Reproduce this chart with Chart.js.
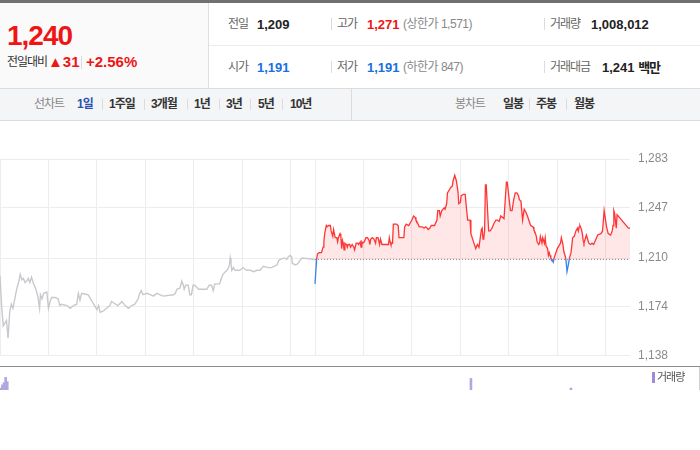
<!DOCTYPE html>
<html lang="ko">
<head>
<meta charset="utf-8">
<script src="https://cdn.jsdelivr.net/npm/chart.js@4.4.1/dist/chart.umd.min.js"></script>
<style>
  body { margin: 0; background: #fff; font-family: "Liberation Sans", "Noto Sans CJK KR", sans-serif; }
  #wrap { position: relative; width: 700px; height: 390px; overflow: hidden; }
  .abs { position: absolute; white-space: nowrap; line-height: 1; }
  .lbl { font-size: 12px; color: #666; letter-spacing: -1px; }
  .num { font-size: 13px; font-weight: bold; color: #222; }
  .sub { font-size: 12px; color: #888; letter-spacing: -0.5px; }
  .red { color: #f01515; }
  .blue { color: #1a6fe2; }
  .sep { position: absolute; width: 1px; background: #dcdcdc; }
  .tab { font-size: 12px; font-weight: bold; color: #333; letter-spacing: -1px; }
  .tabg { font-size: 12px; color: #888; letter-spacing: -1px; }
</style>
</head>
<body>
<div id="wrap">
  <!-- 상단 시세 -->
  <div class="abs" style="left:0;top:0;width:700px;height:3px;background:#707070"></div>
  <div class="abs" style="left:0;top:3px;width:208px;height:85px;background:#fafafa;border-right:1px solid #e0e0e0"></div>
  <div class="abs" style="left:0;top:88px;width:700px;height:1px;background:#dcdcdc"></div>
  <div class="abs" style="left:209px;top:45px;width:491px;height:1px;background:#ececec"></div>

  <div class="abs red" style="left:7px;top:22px;font-size:28px;font-weight:bold;letter-spacing:-1px">1,240</div>
  <div class="abs" style="left:7px;top:56px;font-size:12px;color:#333;letter-spacing:-1px">전일대비</div>
  <div class="abs red" style="left:48px;top:54px;font-size:15px;font-weight:bold">▲31</div>
  <div class="sep" style="left:81px;top:56px;height:13px"></div>
  <div class="abs red" style="left:86px;top:54px;font-size:15px;font-weight:bold">+2.56%</div>

  <div class="abs lbl" style="left:228px;top:18px">전일</div>
  <div class="abs num" style="left:257px;top:18px">1,209</div>
  <div class="sep" style="left:331px;top:18px;height:12px"></div>
  <div class="abs lbl" style="left:337px;top:18px">고가</div>
  <div class="abs num red" style="left:367px;top:18px">1,271</div>
  <div class="abs sub" style="left:403px;top:18px">(상한가 1,571)</div>
  <div class="sep" style="left:544px;top:18px;height:12px"></div>
  <div class="abs lbl" style="left:550px;top:18px">거래량</div>
  <div class="abs num" style="left:591px;top:18px">1,008,012</div>

  <div class="abs lbl" style="left:228px;top:61px">시가</div>
  <div class="abs num blue" style="left:257px;top:61px">1,191</div>
  <div class="sep" style="left:331px;top:61px;height:12px"></div>
  <div class="abs lbl" style="left:337px;top:61px">저가</div>
  <div class="abs num blue" style="left:367px;top:61px">1,191</div>
  <div class="abs sub" style="left:403px;top:61px">(하한가 847)</div>
  <div class="sep" style="left:544px;top:61px;height:12px"></div>
  <div class="abs lbl" style="left:550px;top:61px">거래대금</div>
  <div class="abs num" style="left:602px;top:61px">1,241 <span style="letter-spacing:-1px">백만</span></div>

  <!-- 탭 -->
  <div class="abs" style="left:0;top:89px;width:700px;height:31px;background:#f4f5f7;border-bottom:1px solid #dcdcdc"></div>
  <div class="sep" style="left:351px;top:89px;height:31px"></div>
  <div class="abs tabg" style="left:34px;top:98px">선차트</div>
  <div class="abs tab" style="left:77px;top:98px;color:#2a50b0">1일</div>
  <div class="sep" style="left:102px;top:99px;height:11px"></div>
  <div class="abs tab" style="left:109px;top:98px">1주일</div>
  <div class="sep" style="left:144px;top:99px;height:11px"></div>
  <div class="abs tab" style="left:151px;top:98px">3개월</div>
  <div class="sep" style="left:187px;top:99px;height:11px"></div>
  <div class="abs tab" style="left:194px;top:98px">1년</div>
  <div class="sep" style="left:219px;top:99px;height:11px"></div>
  <div class="abs tab" style="left:226px;top:98px">3년</div>
  <div class="sep" style="left:250px;top:99px;height:11px"></div>
  <div class="abs tab" style="left:258px;top:98px">5년</div>
  <div class="sep" style="left:282px;top:99px;height:11px"></div>
  <div class="abs tab" style="left:290px;top:98px">10년</div>
  <div class="abs tabg" style="left:455px;top:98px">봉차트</div>
  <div class="abs tab" style="left:503px;top:98px">일봉</div>
  <div class="sep" style="left:529px;top:99px;height:11px"></div>
  <div class="abs tab" style="left:536px;top:98px">주봉</div>
  <div class="sep" style="left:566px;top:99px;height:11px"></div>
  <div class="abs tab" style="left:574px;top:98px">월봉</div>

  <!-- 차트 -->
  <div class="abs" style="left:0;top:122px;width:700px;height:249px"><canvas id="priceChart"></canvas></div>
  <div class="abs" style="left:0;top:367px;width:699px;height:100px;background:#fff;border-right:1px solid #d0d0d0"><canvas id="volChart"></canvas></div>
  <div class="abs" style="left:0;top:366px;width:700px;height:1px;background:#8c8c8c"></div>
  <div class="abs" style="left:652px;top:372px;width:3px;height:11px;background:#a08ad6"></div>
  <div class="abs" style="left:657px;top:372px;font-size:11px;color:#555;letter-spacing:-1px">거래량</div>
</div>

<script>
// 기준가 (전일 종가)
const prevClose = 1209;

// 전일 (분, 9:00 기준)
const prevMin = [0,2,4,6,8,10,12,14,16,19,21,23,25,27,29,31,33,35,37,39,41,43,45,47,49,50,52,54,58,60,62,64,68,72,74,76,83,87,91,95,97,99,101,109,111,114,116,120,122,124,128,132,136,138,146,151,155,159,163,167,171,173,175,177,182,186,190,194,202,215,217,219,223,225,227,228,230,233,235,237,239,241,246,256,259,262,264,266,272,274,276,279,281,283,284,285,286,287,289,291,297,301,305,310,314,318,322,326,332,336,340,343,345,347,351,353,355,357,359,361,362,366,369,371,374,390];
const prevPrice = [1197,1175,1160,1162,1164,1151,1170,1176,1173,1182,1188,1192,1198,1194,1195,1192,1193,1195,1192,1196,1192,1189,1186,1181,1173,1183,1180,1184,1185,1173,1178,1181,1181,1180,1175,1176,1175,1173,1175,1176,1184,1179,1184,1183,1181,1178,1176,1172,1175,1170,1171,1173,1175,1178,1175,1178,1175,1173,1175,1176,1180,1184,1186,1183,1184,1183,1182,1184,1182,1183,1184,1187,1188,1193,1190,1187,1190,1190,1183,1183,1190,1190,1187,1187,1190,1190,1186,1191,1191,1195,1198,1200,1201,1203,1205,1210,1206,1201,1203,1201,1201,1203,1201,1201,1200,1201,1201,1204,1203,1203,1204,1205,1208,1209,1210,1210,1209,1211,1212,1211,1206,1205,1206,1208,1210,1209];

// 당일 (분, 9:00 기준)
const todayMin = [0,2,3,5,8,10,11,12,14,15,17,19,20,22,23,25,27,28,29,31,32,33,34,35,36,37,39,40,41,43,44,46,48,49,51,53,54,56,57,58,59,61,63,65,67,68,69,71,73,75,76,78,80,81,83,85,87,91,92,93,94,96,97,99,101,103,104,106,108,110,111,113,116,118,120,122,124,125,127,129,131,133,135,137,139,140,142,144,148,151,152,154,155,157,160,161,163,164,166,168,170,171,173,175,177,178,180,181,184,186,187,189,191,192,193,199,201,203,206,207,208,209,210,211,212,215,217,219,222,224,226,228,230,232,234,235,237,238,242,244,246,248,250,252,253,255,256,257,259,261,263,267,270,271,273,274,275,277,278,279,281,282,284,285,286,288,289,290,291,292,294,295,296,300,302,304,305,307,308,310,311,312,314,315,317,319,321,323,324,325,326,327,328,330,331,332,333,335,336,337,339,341,343,345,350,354,356,358,359,361,363,366,368,369,370,371,373,374,388,390];
const todayPrice = [1191,1209,1213,1214,1214,1218,1222,1228,1234,1233,1234,1234,1230,1226,1231,1225,1225,1222,1225,1228,1226,1217,1223,1221,1216,1221,1220,1218,1220,1220,1218,1220,1218,1216,1221,1221,1220,1222,1218,1222,1221,1222,1225,1225,1223,1220,1224,1225,1224,1221,1225,1225,1220,1224,1220,1220,1220,1220,1225,1222,1220,1221,1235,1235,1235,1234,1225,1225,1225,1225,1233,1235,1234,1236,1238,1241,1240,1238,1236,1233,1233,1233,1232,1233,1232,1231,1232,1234,1234,1238,1245,1245,1241,1245,1247,1246,1250,1258,1260,1262,1263,1267,1271,1267,1259,1250,1251,1256,1257,1257,1250,1238,1238,1238,1228,1217,1220,1218,1231,1232,1224,1225,1230,1264,1264,1230,1230,1232,1236,1238,1238,1237,1241,1240,1239,1239,1266,1266,1245,1245,1253,1258,1258,1256,1253,1252,1245,1238,1246,1244,1241,1234,1233,1231,1228,1226,1222,1220,1221,1226,1221,1225,1221,1225,1219,1217,1212,1214,1212,1210,1208,1207,1210,1217,1219,1221,1225,1220,1215,1211,1207,1200,1206,1210,1214,1225,1226,1230,1231,1232,1230,1233,1234,1231,1228,1223,1221,1225,1227,1225,1221,1220,1221,1220,1227,1228,1230,1245,1245,1233,1228,1227,1230,1234,1245,1243,1232,1242,1232,1232,1240];

// 가격축 눈금
const yTicks = [1138, 1174, 1210, 1247, 1283];

// 세로 격자 (분): 전일 0~390, 당일 390~780
const xGrid = [0,60,120,180,240,300,360,390,450,510,570,630,690,750];

// 거래량
const volMin = [1,3,5,7,9,584,708];
const volValue = [74000,77000,79000,84000,80000,83000,74000];

const lineRed = "#ff3434";
const lineBlue = "#3a82e8";

// 기준가 위는 빨강, 아래는 파랑
function splitColor(ctx) {
  const chart = ctx.chart;
  const area = chart.chartArea;
  if (!area) return lineRed;
  const yb = chart.scales.y.getPixelForValue(prevClose);
  let s = (yb - area.top) / (area.bottom - area.top);
  s = Math.min(Math.max(s, 0), 1);
  const g = chart.ctx.createLinearGradient(0, area.top, 0, area.bottom);
  g.addColorStop(0, lineRed);
  g.addColorStop(s, lineRed);
  g.addColorStop(s, lineBlue);
  g.addColorStop(1, lineBlue);
  return g;
}

const prevData = prevMin.map((m, i) => ({ x: m, y: prevPrice[i] }));
const todayData = todayMin.map((m, i) => ({ x: m + 390, y: todayPrice[i] }));

new Chart(document.getElementById("priceChart"), {
  type: "line",
  data: {
    datasets: [
      {
        data: todayData,
        borderColor: splitColor,
        borderWidth: 1.3,
        pointRadius: 0,
        tension: 0,
        fill: { value: prevClose, above: "rgba(255,70,70,0.13)", below: "rgba(60,120,240,0.12)" }
      },
      {
        data: [{ x: 390, y: prevClose }, { x: 780, y: prevClose }],
        borderColor: "#8a8a8a",
        borderWidth: 1,
        borderDash: [1, 2],
        pointRadius: 0,
        fill: false
      },
      {
        data: prevData,
        borderColor: "#c8c9ce",
        borderWidth: 1.4,
        pointRadius: 0,
        tension: 0,
        fill: false
      }
    ]
  },
  options: {
    animation: false,
    responsive: true,
    maintainAspectRatio: false,
    layout: { padding: { top: 37, bottom: 4, left: 0, right: 0 } },
    plugins: { legend: { display: false }, tooltip: { enabled: false } },
    scales: {
      x: {
        type: "linear",
        min: 0,
        max: 780,
        afterBuildTicks: s => { s.ticks = xGrid.map(v => ({ value: v })); },
        ticks: { display: false },
        grid: { color: "#ededed", drawTicks: false },
        border: { display: false }
      },
      y: {
        position: "right",
        min: 1138,
        max: 1283,
        afterBuildTicks: s => { s.ticks = yTicks.map(v => ({ value: v })); },
        afterFit: s => { s.width = 70; },
        ticks: {
          padding: 8,
          color: "#8a8a8a",
          font: { family: "Liberation Sans", size: 12 },
          callback: v => v.toLocaleString("en-US")
        },
        grid: { color: "#ededed", drawTicks: false },
        border: { display: false }
      }
    }
  }
});

new Chart(document.getElementById("volChart"), {
  type: "bar",
  data: {
    datasets: [{
      data: volMin.map((m, i) => ({ x: m, y: volValue[i] })),
      backgroundColor: "#b3a6de",
      barThickness: 2
    }]
  },
  options: {
    animation: false,
    responsive: true,
    maintainAspectRatio: false,
    layout: { padding: { top: 4, right: 70, left: 0, bottom: 0 } },
    plugins: { legend: { display: false }, tooltip: { enabled: false } },
    scales: {
      x: { type: "linear", min: 0, max: 780, offset: false, display: false },
      y: { min: 0, max: 90000, display: false }
    }
  }
});
</script>
</body>
</html>
